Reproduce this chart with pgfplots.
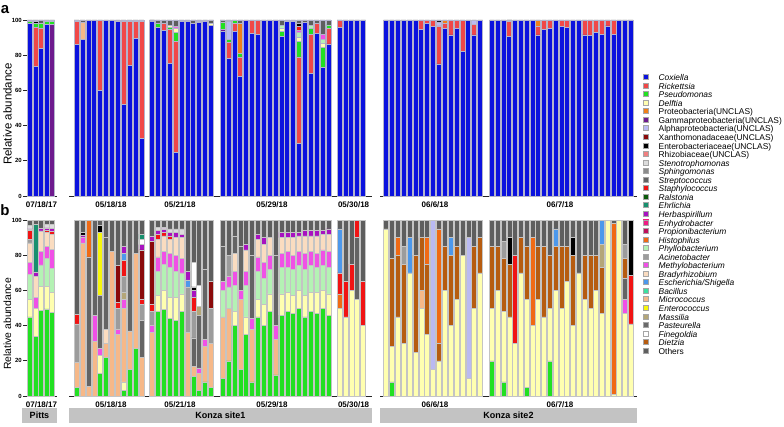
\documentclass[border=0pt]{standalone}
\usepackage{fontspec}
\setmainfont{Liberation Sans}
\usepackage{pgfplots}
\usepackage{pgfplotstable}
\pgfplotsset{compat=1.18}
\definecolor{coxc}{HTML}{0B12DE}
\definecolor{rickc}{HTML}{F04848}
\definecolor{psec}{HTML}{22E022}
\definecolor{delc}{HTML}{FFFFB0}
\definecolor{proc}{HTML}{F08018}
\definecolor{gamc}{HTML}{6E1A8E}
\definecolor{alpc}{HTML}{BABAF2}
\definecolor{xanc}{HTML}{8A0A0A}
\definecolor{enbc}{HTML}{000000}
\definecolor{rhic}{HTML}{F08080}
\definecolor{stec}{HTML}{DCDCDC}
\definecolor{sphc}{HTML}{8C8C8C}
\definecolor{strc}{HTML}{646464}
\definecolor{stac}{HTML}{F01414}
\definecolor{ralc}{HTML}{0A5A0A}
\definecolor{ehrc}{HTML}{18906E}
\definecolor{herc}{HTML}{A812C0}
\definecolor{enhc}{HTML}{F01C84}
\definecolor{prpc}{HTML}{C0105C}
\definecolor{hisc}{HTML}{F06A14}
\definecolor{phyc}{HTML}{B4F2B4}
\definecolor{acic}{HTML}{9C9C9C}
\definecolor{metc}{HTML}{F050E6}
\definecolor{brac}{HTML}{FADCC0}
\definecolor{escc}{HTML}{4C98EC}
\definecolor{bacc}{HTML}{3CE0A0}
\definecolor{micc}{HTML}{F6B888}
\definecolor{entc}{HTML}{F6F60C}
\definecolor{masc}{HTML}{B4A678}
\definecolor{pasc}{HTML}{6A6A6A}
\definecolor{finc}{HTML}{FFFFFF}
\definecolor{diec}{HTML}{B65C10}
\definecolor{othc}{HTML}{5E5E5E}
\definecolor{abord}{HTML}{B4B4CC}
\definecolor{bbord}{HTML}{C4C4C4}
\definecolor{boxg}{HTML}{C3C3C3}

\pgfplotstableread{
x Cox Gam Rick Pse Del Phy Met Alp Pro Mic Sta Enb Oth
30.0 98 0 0 1 0 0 0 0 0 0 0 0 1
35.5 73.5 0 22.5 2 0 0 0 0 0 0 0 1 1
41.0 84 0 11.5 2.5 0 0 0 0 0 0 0 0 2
46.5 97.5 0 0 1.5 0 0 0 0 0 0 0 0 1
52.0 0 97.5 0 1.5 0 0 0 0 0 0 0 0 1
76.7 86 0 13 0 0 0 0 0 0 0 0 0 1
82.6 89 0 0 0 0 0 0 0 0 9.5 0 0 1.5
88.5 99.5 0 0 0 0 0 0 0 0 0 0 0 0.5
94.3 99.5 0 0 0 0 0 0 0 0 0 0 0 0.5
100.2 60 0 39.5 0 0 0 0 0 0 0 0 0 0.5
106.1 99.5 0 0 0 0 0 0 0 0 0 0 0 0.5
112.0 99.5 0 0 0 0 0 0 0 0 0 0 0 0.5
117.9 99 0 0 0 0 0 0 0 0 0 0 0 1
123.7 52 0 47 0 0 0 0 0 0 0 0 0 1
129.6 74 0 25 0 0 0 0 0 0 0 0 0 1
135.5 89.5 0 9.5 0 0 0 0 0 0 0 0 0 1
141.4 32.5 0 66.5 0 0 0 0 0 0 0 0 0 1
152.0 99 0 0 0 0 0 0 0 0 0 0 1 0
157.9 96 0 0 2 0 0 0 0 0 0 0 0 2
163.8 94 0 4 0 0 0 0 0 0 0 0 0 2
169.7 75.5 0 19 1.5 1 0 0 0 0 0 0 0 3
175.6 24.5 0 63.5 5 2.5 0 1 0 0 0 0 0 3.5
181.5 99 0 0 0 0 0 0 0 0 0 0 0 1
187.4 99 0 0 0 0 0 0 0 0 0 0 0 1
193.3 98 0 0 0 0 0 0 0 0 0 0 0 2
199.2 98.5 0 0 0 0 0 0.5 0 0 0 0 0 1
205.1 99 0 0 0 0 0 0 0 0 0 0 0 1
211.0 97 0 0 0 1 0 0 0 0 0 0 0 2
222.7 93.5 1 0 4 0 0 0 0 0 0 0 0 1.5
228.6 78 0 9 2 0 0 0 10 0 0 0 0 1
234.4 93.5 0 4.5 1.5 0 0 0 0 0 0 0 0 0.5
240.3 68 0 11 2 0 0 0 0 17 0 0 0 2
246.2 99.5 0 0 0 0 0 0 0 0 0 0 0 0.5
252.1 92.5 0 7 0 0 0 0 0 0 0 0 0 0.5
257.9 92 0 7.5 0 0 0 0 0 0 0 0 0 0.5
263.8 99.5 0 0 0 0 0 0 0 0 0 0 0 0.5
269.7 99.5 0 0 0 0 0 0 0 0 0 0 0 0.5
275.5 99.5 0 0 0 0 0 0 0 0 0 0 0 0.5
281.4 90.5 0 0 3 2 1.5 0 0 0 0 0 0 3
287.3 99 0 0 0.5 0 0 0 0 0 0 0 0 0.5
293.1 99 0 0 0.5 0 0 0 0 0 0 0 0 0.5
299.0 30 0 49 8.7 2.3 2.8 1.2 0 0 0 2.3 1.5 2.2
304.9 98.5 0 0 0 0 0 0 0 0 0 0 0 1.5
310.8 69.7 0 22.3 3.3 0 1.5 0 0 0 0 0 0 3.2
316.6 92.4 0 5.6 0 0 0 0 0 0 0 0 0 2
322.5 73 0 0 11.5 2 2.5 3 0 0 0 0 0 8
328.4 86.4 0 8.9 1.9 0 0 0 0 0 0 0 0 2.8
339.5 95.8 0 3.7 0 0 0 0 0 0 0 0 0 0.5
345.4 99.5 0 0 0 0 0 0 0 0 0 0 0 0.5
351.3 99.5 0 0 0 0 0 0 0 0 0 0 0 0.5
357.1 99.5 0 0 0 0 0 0 0 0 0 0 0 0.5
363.0 99.5 0 0 0 0 0 0 0 0 0 0 0 0.5
386.0 99.5 0 0 0 0 0 0 0 0 0 0 0 0.5
391.9 99.5 0 0 0 0 0 0 0 0 0 0 0 0.5
397.8 99.5 0 0 0 0 0 0 0 0 0 0 0 0.5
403.6 99.5 0 0 0 0 0 0 0 0 0 0 0 0.5
409.5 99.5 0 0 0 0 0 0 0 0 0 0 0 0.5
415.4 99.5 0 0 0 0 0 0 0 0 0 0 0 0.5
421.3 94.7 0 5 0 0 0 0 0 0 0 0 0 0.3
427.1 98 0 1.5 0 0 0 0 0 0 0 0 0 0.5
433.0 96.2 0 3.3 0 0 0 0 0 0 0 0 0 0.5
438.9 75 0 21.6 0 0 0 0 2.3 0 0 0 0.6 0.5
444.8 95.3 0 2.7 0 0 0 0 0 1.5 0 0 0 0.5
450.6 91.5 0 8 0 0 0 0 0 0 0 0 0 0.5
456.5 95.3 0 4.2 0 0 0 0 0 0 0 0 0 0.5
462.4 82 0 17.5 0 0 0 0 0 0 0 0 0 0.5
468.3 99.5 0 0 0 0 0 0 0 0 0 0 0 0.5
474.1 91.5 0 6.2 0 0 0 0 1.8 0 0 0 0 0.5
480.0 99.5 0 0 0 0 0 0 0 0 0 0 0 0.5
492.0 99.5 0 0 0 0 0 0 0 0 0 0 0 0.5
497.8 99.5 0 0 0 0 0 0 0 0 0 0 0 0.5
503.6 99.5 0 0 0 0 0 0 0 0 0 0 0 0.5
509.3 90.5 0 8.5 0 0 0 0 0 0 0 0 1 0
515.1 99.5 0 0 0 0 0 0 0 0 0 0 0 0.5
520.9 99.5 0 0 0 0 0 0 0 0 0 0 0 0.5
526.7 99.5 0 0 0 0 0 0 0 0 0 0 0 0.5
532.5 99.5 0 0 0 0 0 0 0 0 0 0 0 0.5
538.2 91.5 0 4.7 0 0 0 0 0 3.3 0 0 0 0.5
544.0 94.7 0 5 0 0 0 0 0 0 0 0 0 0.3
549.8 95.3 0 4.5 0 0 0 0 0 0 0 0 0 0.2
555.6 99.5 0 0 0 0 0 0 0 0 0 0 0 0.5
561.4 96.2 0 3.5 0 0 0 0 0 0 0 0 0 0.3
567.1 95.8 0 4 0 0 0 0 0 0 0 0 0 0.2
572.9 99.5 0 0 0 0 0 0 0 0 0 0 0 0.5
578.7 99.5 0 0 0 0 0 0 0 0 0 0 0 0.5
584.5 91.5 0 8.3 0 0 0 0 0 0 0 0 0 0.2
590.3 91 0 8.8 0 0 0 0 0 0 0 0 0 0.2
596.0 92.8 0 7 0 0 0 0 0 0 0 0 0 0.2
601.8 92 0 7.8 0 0 0 0 0 0 0 0 0 0.2
607.6 96.6 0 3.2 0 0 0 0 0 0 0 0 0 0.2
613.4 92 0 7.5 0 0 0 0 0 0 0 0 0 0.5
619.2 99.5 0 0 0 0 0 0 0 0 0 0 0 0.5
624.9 99.5 0 0 0 0 0 0 0 0 0 0 0 0.5
630.7 99.5 0 0 0 0 0 0 0 0 0 0 0 0.5
}\tabA

\pgfplotstableread{
x Pse Del Mic Phy Met Bra Str Die Mas His Aci Sta Xan Esc Alp Ent Her Enb Fin Ehr Ste Oth
30.0 45 10 0 14 7 11 0 0 0 0 2 5 0 0 0 0 1 0 0 0 2 3
35.5 34 16 0 0 6 12 0 0 0 0 0 0 0 0 0 0 2.5 0 0 27 0 2.5
41.0 48.5 14 0 12 7.5 11.8 0 0 0 0 0 0 0 0 0 0 1.5 0 0 0 0 4.7
46.5 49.5 13 0 15.5 7 8 0 0 0 0 0 1 0 0 0 0 1.5 0 0 0 2 2.5
52.0 47.7 11 0 13.6 11 8.5 0 0 0 0 0 1.5 0 0 0 0 2 0 0 0 2 2.7
76.7 5 0 14 0 0 0 0 0 0 0 22 5.5 0 0 0 0 0 0 0 0 0 53.5
82.6 0 0 87 0 3 0 0 0 0 0 0 0 0 0 0 0 1.5 1.5 0 0 0 7
88.5 0 0 5.5 0 0 0 73.5 0 0 21 0 0 0 0 0 0 0 0 0 0 0 0
94.3 0 0 31 0 15 0 54 0 0 0 0 0 0 0 0 0 0 0 0 0 0 0
100.2 13 10 0 0 4 0 30 0 0 0 0 0 0 0 0 36 0 4 0 0 0 3
106.1 22 0 8 0 0 8 52 0 0 0 0 0 0 0 0 0 0 0 0 0 0 10
112.0 0 0 82 0 0 0 0 0 0 0 0 0 0 0 0 0 0 0 0 0 0 18
117.9 0 0 35 0 3 0 0 0 0 0 12 3 21 0 0 0 0 0 0 0 0 26
123.7 3 5 42 0 5 0 0 0 4 0 9 9 0 4 0 0 4 0 0 0 0 15
129.6 15 0 22 0 0 0 63 0 0 0 0 0 0 0 0 0 0 0 0 0 0 0
135.5 27 0 54 0 0 0 0 0 0 0 0 0 0 0 0 0 0 0 0 0 0 19
141.4 0 0 22 0 0 0 21 0 0 0 9 3 28 0 0 0 3 0 3 3 0 8
152.0 0 0 36 0 4 0 0 0 0 0 8 4 36 0 0 0 3 0 0 0 0 9
157.9 48 9 0 14 8 10 0 0 0 0 0 3 0 0 0 0 2 0 0 0 2 4
163.8 49 11 0 15 7 9 0 0 0 0 0 2 0 0 0 0 2 0 0 0 1 4
169.7 44 12 0 17 8 8 0 0 0 0 0 2 0 0 0 0 2 0 0 0 2 5
175.6 43 13 0 15 9 10 0 0 0 0 0 0 0 0 0 0 3 0 0 0 2 5
181.5 48 10 0 12 8 12 0 0 0 0 0 0 0 0 0 0 2 0 0 0 3 5
187.4 0 0 36 0 0 0 0 0 0 0 26 0 0 4 0 0 5 0 0 0 0 29
193.3 11 0 6 0 0 0 16 0 0 0 15 8 0 0 0 0 4 2 14 0 0 24
199.2 3 0 10 0 3 0 30 0 5 0 0 0 0 0 0 0 0 0 12 0 0 37
205.1 8 0 20 0 4 0 40 0 0 0 0 0 0 0 0 0 0 0 0 0 0 28
211.0 5 0 25 0 0 0 0 0 0 0 20 0 15 0 0 0 0 0 0 0 0 35
222.7 10 0 35 15 5 0 20 0 0 0 0 0 0 0 0 0 0 0 0 0 0 15
228.6 20 0 30 12 6 0 0 0 0 0 12 0 0 0 0 0 0 0 0 0 0 20
234.4 40 8 0 15 8 10 10 0 0 0 0 0 0 0 0 0 0 0 0 0 0 9
240.3 15 0 40 0 5 0 25 0 0 0 0 0 0 0 0 0 0 0 0 0 0 15
246.2 35 10 0 18 8 12 0 0 0 0 0 0 0 0 0 0 3 0 0 0 0 14
252.1 8 0 30 0 6 0 36 0 0 0 0 0 0 0 0 0 0 0 0 0 0 20
257.9 45 10 0 16 8 10 0 0 0 0 0 0 0 0 0 0 3 0 0 0 0 8
263.8 40 12 0 15 9 10 0 0 0 0 0 0 0 0 0 0 4 0 0 0 0 10
269.7 48 10 0 14 8 10 0 0 0 0 0 0 0 0 0 0 0 0 0 0 0 10
275.5 12 0 20 0 8 0 40 0 0 0 0 0 0 0 0 0 0 0 0 0 0 20
281.4 46 12 0 15 8 9 0 0 0 0 0 0 0 0 0 0 3 0 0 0 0 7
287.3 48 11 0 14 9 8 0 0 0 0 0 0 0 0 0 0 3 0 0 0 0 7
293.1 47 10 0 15 8 10 0 0 0 0 0 0 0 0 0 0 3 0 0 0 0 7
299.0 50 10 0 14 8 9 0 0 0 0 0 0 0 0 0 0 2 0 0 0 0 7
304.9 45 12 0 15 9 10 0 0 0 0 0 0 0 0 0 0 3 0 0 0 0 6
310.8 48 11 0 15 8 9 0 0 0 0 0 0 0 0 0 0 3 0 0 0 0 6
316.6 47 12 0 14 8 10 0 0 0 0 0 0 0 0 0 0 3 0 0 0 0 6
322.5 50 10 0 14 9 9 0 0 0 0 0 0 0 0 0 0 2 0 0 0 0 6
328.4 46 12 0 15 9 10 0 0 0 0 0 0 0 0 0 0 3 0 0 0 0 5
339.5 0 50 0 0 0 0 0 0 0 8 0 12 0 25 0 0 0 0 0 0 0 5
345.4 0 45 0 0 0 0 0 0 0 0 0 20 0 0 0 0 0 0 0 0 0 35
351.3 0 60 0 0 0 0 0 0 0 0 0 15 0 0 0 0 0 0 0 0 0 25
357.1 0 55 0 0 0 0 35 0 0 0 0 10 0 0 0 0 0 0 0 0 0 0
363.0 0 40 0 0 0 0 0 0 0 0 0 25 0 0 0 0 0 0 0 0 0 35
386.0 0 95 0 0 0 0 0 0 0 0 0 0 0 0 0 0 0 0 0 0 0 5
391.9 8 20 0 0 0 0 0 50 0 0 0 0 0 0 0 0 0 0 0 0 0 22
397.8 0 45 0 0 0 0 0 35 0 10 0 0 0 0 0 0 0 0 0 0 0 10
403.6 0 30 0 0 0 0 0 45 0 0 10 0 0 0 0 0 0 0 0 0 0 15
409.5 0 70 0 0 0 0 0 0 0 0 0 0 0 20 0 0 0 0 0 0 0 10
415.4 0 25 0 0 0 0 0 55 0 0 0 0 0 0 0 0 0 0 0 0 0 20
421.3 0 50 10 0 0 0 0 30 0 0 0 0 0 0 0 0 0 0 0 0 0 10
427.1 0 35 0 0 0 0 0 40 0 15 0 0 0 0 0 0 0 0 0 0 0 10
433.0 0 15 0 0 0 0 0 0 0 0 0 0 0 0 85 0 0 0 0 0 0 0
438.9 0 20 0 0 0 0 0 10 0 65 0 0 0 0 0 0 0 0 0 0 0 5
444.8 0 60 0 0 0 0 0 25 0 0 0 0 0 0 0 0 0 0 0 0 0 15
450.6 0 40 0 0 0 0 0 40 0 0 0 0 0 10 0 0 0 0 0 0 0 10
456.5 0 55 0 0 0 0 0 30 0 0 0 0 0 0 0 0 0 0 0 0 0 15
462.4 0 80 0 0 0 0 0 0 0 0 0 0 0 0 0 0 0 0 0 0 0 20
468.3 0 10 0 0 0 0 0 0 0 0 0 0 0 0 80 0 0 0 0 0 0 10
474.1 0 50 0 0 0 0 0 35 0 0 0 0 0 0 0 0 0 0 0 0 0 15
480.0 0 70 0 0 0 0 0 20 0 0 0 0 0 0 0 0 0 0 0 0 0 10
492.0 20 30 0 0 0 0 0 35 0 0 0 0 0 0 0 0 0 0 0 0 0 15
497.8 0 60 0 0 0 0 0 25 0 0 0 0 0 0 0 0 0 0 0 0 0 15
503.6 8 40 0 0 0 0 0 30 0 0 10 0 0 0 0 0 0 0 0 0 0 12
509.3 0 45 0 0 0 0 0 30 0 0 0 0 0 0 0 0 0 15 0 0 0 10
515.1 0 30 0 0 0 0 0 0 0 0 0 50 0 0 0 0 0 0 0 0 0 20
520.9 0 70 0 0 0 0 0 20 0 0 0 0 0 0 0 0 0 0 0 0 0 10
526.7 5 50 0 0 0 0 0 30 0 0 0 0 0 0 0 0 0 0 0 0 0 15
532.5 0 40 0 0 0 0 0 0 0 50 0 0 0 0 0 0 0 0 0 0 0 10
538.2 0 55 0 0 0 0 0 30 0 0 0 0 0 0 0 0 0 0 0 0 0 15
544.0 0 45 0 0 0 0 0 40 0 0 0 0 0 0 0 0 0 0 0 0 0 15
549.8 20 30 0 0 0 0 0 30 0 0 0 0 0 0 0 0 0 0 0 0 0 20
555.6 0 60 0 0 0 0 0 25 0 0 0 0 0 10 0 0 0 0 0 0 0 5
561.4 0 50 0 0 0 0 0 35 0 0 0 0 0 0 0 0 0 0 0 0 0 15
567.1 0 65 0 0 0 0 0 20 0 0 0 0 0 0 0 0 0 0 0 0 0 15
572.9 0 40 0 0 0 0 0 40 0 0 0 0 0 0 0 0 0 10 0 0 0 10
578.7 0 70 0 0 0 0 0 0 0 0 0 0 0 0 0 0 0 0 0 0 0 30
584.5 0 55 0 0 0 0 0 25 0 0 0 0 0 0 0 0 0 0 0 0 0 20
590.3 0 50 0 0 0 0 0 30 0 0 0 0 0 0 0 0 0 0 0 0 0 20
596.0 0 60 0 0 0 0 0 20 0 0 0 0 0 0 0 0 0 0 0 0 0 20
601.8 0 47 0 0 0 0 0 26 13 0 0 0 0 14 0 0 0 0 0 0 0 0
607.6 0 100 0 0 0 0 0 0 0 0 0 0 0 0 0 0 0 0 0 0 0 0
613.4 0 1 0 0 0 0 0 0 0 97 0 0 0 0 0 0 0 0 0 0 0 2
619.2 0 100 0 0 0 0 0 0 0 0 0 0 0 0 0 0 0 0 0 0 0 0
624.9 0 47 0 0 8 0 12 11 0 0 8 0 0 0 0 0 0 0 0 0 0 14
630.7 0 41 0 0 0 0 0 0 0 0 0 27.5 0 0 0 0 0 31.5 0 0 0 0
}\tabB

\pgfplotsset{
  panel/.style={
    scale only axis, width=757pt, height=176pt, anchor=south west,
    xmin=27, xmax=784, ymin=0, ymax=100,
    axis lines*=left,
    x axis line style={draw=none},
    y axis line style={line width=0.8pt, black!85},
    ybar stacked, bar width=5pt,
    ytick={0,20,40,60,80,100},
    ytick style={line width=0.8pt, black!85},
    xtick style={draw=none},
    tick align=outside, major tick length=4pt,
    /pgf/number format/assume math mode=true,
    yticklabel style={font=\bfseries\fontsize{6}{7}\selectfont, inner xsep=1pt},
    xticklabel style={font=\bfseries\fontsize{8}{9}\selectfont, inner ysep=2pt},
    xtick={41.5,111,180,272,353.6,435,560},
    xticklabels={07/18/17,05/18/18,05/21/18,05/29/18,05/30/18,06/6/18,06/7/18},
    clip=false,
  },
  ba/.style={fill=#1, draw=abord, line width=0.8pt, forget plot},
  bb/.style={fill=#1, draw=bbord, line width=0.6pt, forget plot},
  legsq/.style={legend image code/.code={\fill[#1] (0pt,-0.3pt) rectangle (5pt,4.7pt); \draw[gray!70, line width=0.3pt] (0pt,-0.3pt) rectangle (5pt,4.7pt);}},
}

\begin{document}
\begin{tikzpicture}
\path[use as bounding box] (0,0) rectangle (784pt,426pt);
% ---------- panel a ----------
\begin{axis}[panel, at={(27pt,230pt)}]
\addplot[ba=coxc] table[x=x,y=Cox]{\tabA};
\addplot[ba=gamc] table[x=x,y=Gam]{\tabA};
\addplot[ba=rickc] table[x=x,y=Rick]{\tabA};
\addplot[ba=psec] table[x=x,y=Pse]{\tabA};
\addplot[ba=delc] table[x=x,y=Del]{\tabA};
\addplot[ba=phyc] table[x=x,y=Phy]{\tabA};
\addplot[ba=metc] table[x=x,y=Met]{\tabA};
\addplot[ba=alpc] table[x=x,y=Alp]{\tabA};
\addplot[ba=proc] table[x=x,y=Pro]{\tabA};
\addplot[ba=micc] table[x=x,y=Mic]{\tabA};
\addplot[ba=stac] table[x=x,y=Sta]{\tabA};
\addplot[ba=enbc] table[x=x,y=Enb]{\tabA};
\addplot[ba=othc] table[x=x,y=Oth]{\tabA};
\draw[line width=0.9pt, black!85] (axis cs:27,0) -- (axis cs:57,0);
\draw[line width=0.9pt, black!85] (axis cs:69,0) -- (axis cs:372,0);
\draw[line width=0.9pt, black!85] (axis cs:380,0) -- (axis cs:637,0);
\end{axis}
% ---------- panel b ----------
\begin{axis}[panel, at={(27pt,30pt)}]
\addplot[bb=psec] table[x=x,y=Pse]{\tabB};
\addplot[bb=delc] table[x=x,y=Del]{\tabB};
\addplot[bb=micc] table[x=x,y=Mic]{\tabB};
\addplot[bb=phyc] table[x=x,y=Phy]{\tabB};
\addplot[bb=metc] table[x=x,y=Met]{\tabB};
\addplot[bb=brac] table[x=x,y=Bra]{\tabB};
\addplot[bb=strc] table[x=x,y=Str]{\tabB};
\addplot[bb=diec] table[x=x,y=Die]{\tabB};
\addplot[bb=masc] table[x=x,y=Mas]{\tabB};
\addplot[bb=hisc] table[x=x,y=His]{\tabB};
\addplot[bb=acic] table[x=x,y=Aci]{\tabB};
\addplot[bb=stac] table[x=x,y=Sta]{\tabB};
\addplot[bb=xanc] table[x=x,y=Xan]{\tabB};
\addplot[bb=escc] table[x=x,y=Esc]{\tabB};
\addplot[bb=alpc] table[x=x,y=Alp]{\tabB};
\addplot[bb=entc] table[x=x,y=Ent]{\tabB};
\addplot[bb=herc] table[x=x,y=Her]{\tabB};
\addplot[bb=enbc] table[x=x,y=Enb]{\tabB};
\addplot[bb=finc] table[x=x,y=Fin]{\tabB};
\addplot[bb=ehrc] table[x=x,y=Ehr]{\tabB};
\addplot[bb=stec] table[x=x,y=Ste]{\tabB};
\addplot[bb=othc] table[x=x,y=Oth]{\tabB};
\draw[line width=0.9pt, black!85] (axis cs:27,0) -- (axis cs:57,0);
\draw[line width=0.9pt, black!85] (axis cs:69,0) -- (axis cs:372,0);
\draw[line width=0.9pt, black!85] (axis cs:380,0) -- (axis cs:637,0);
\end{axis}
% ---------- legend ----------
\begin{axis}[hide axis, scale only axis, width=784pt, height=426pt, at={(0pt,0pt)}, anchor=south west,
  xmin=0, xmax=1, ymin=0, ymax=1,
  legend cell align=left,
  legend style={at={(0.8202,0.8265)}, anchor=north west, draw=none, fill=none, inner sep=0pt,
    font=\fontsize{8.4}{8.4}\selectfont, row sep=0pt,
    nodes={inner sep=0pt, text height=5.3pt, text depth=2.0pt},
    /tikz/every odd column/.append style={column sep=10pt}}]
\addlegendimage{legsq=coxc}\addlegendentry{\textit{Coxiella}}
\addlegendimage{legsq=rickc}\addlegendentry{\textit{Rickettsia}}
\addlegendimage{legsq=psec}\addlegendentry{\textit{Pseudomonas}}
\addlegendimage{legsq=delc}\addlegendentry{\textit{Delftia}}
\addlegendimage{legsq=proc}\addlegendentry{Proteobacteria(UNCLAS)}
\addlegendimage{legsq=gamc}\addlegendentry{Gammaproteobacteria(UNCLAS)}
\addlegendimage{legsq=alpc}\addlegendentry{Alphaproteobacteria(UNCLAS)}
\addlegendimage{legsq=xanc}\addlegendentry{Xanthomonadaceae(UNCLAS)}
\addlegendimage{legsq=enbc}\addlegendentry{Enterobacteriaceae(UNCLAS)}
\addlegendimage{legsq=rhic}\addlegendentry{Rhizobiaceae(UNCLAS)}
\addlegendimage{legsq=stec}\addlegendentry{\textit{Stenotrophomonas}}
\addlegendimage{legsq=sphc}\addlegendentry{\textit{Sphingomonas}}
\addlegendimage{legsq=strc}\addlegendentry{\textit{Streptococcus}}
\addlegendimage{legsq=stac}\addlegendentry{\textit{Staphylococcus}}
\addlegendimage{legsq=ralc}\addlegendentry{\textit{Ralstonia}}
\addlegendimage{legsq=ehrc}\addlegendentry{\textit{Ehrlichia}}
\addlegendimage{legsq=herc}\addlegendentry{\textit{Herbaspirillum}}
\addlegendimage{legsq=enhc}\addlegendentry{\textit{Enhydrobacter}}
\addlegendimage{legsq=prpc}\addlegendentry{\textit{Propionibacterium}}
\addlegendimage{legsq=hisc}\addlegendentry{\textit{Histophilus}}
\addlegendimage{legsq=phyc}\addlegendentry{\textit{Phyllobacterium}}
\addlegendimage{legsq=acic}\addlegendentry{\textit{Acinetobacter}}
\addlegendimage{legsq=metc}\addlegendentry{\textit{Methylobacterium}}
\addlegendimage{legsq=brac}\addlegendentry{\textit{Bradyrhizobium}}
\addlegendimage{legsq=escc}\addlegendentry{\textit{Escherichia/Shigella}}
\addlegendimage{legsq=bacc}\addlegendentry{\textit{Bacillus}}
\addlegendimage{legsq=micc}\addlegendentry{\textit{Micrococcus}}
\addlegendimage{legsq=entc}\addlegendentry{\textit{Enterococcus}}
\addlegendimage{legsq=masc}\addlegendentry{\textit{Massilia}}
\addlegendimage{legsq=pasc}\addlegendentry{\textit{Pasteurella}}
\addlegendimage{legsq=finc}\addlegendentry{\textit{Finegoldia}}
\addlegendimage{legsq=diec}\addlegendentry{\textit{Dietzia}}
\addlegendimage{legsq=othc}\addlegendentry{Others}
\end{axis}
% ---------- labels ----------
\node[font=\bfseries\fontsize{15}{15}\selectfont, anchor=base] at (5pt,412.5pt) {a};
\node[font=\bfseries\fontsize{15}{15}\selectfont, anchor=base] at (5pt,210pt) {b};
\node[rotate=90, font=\fontsize{11.5}{12}\selectfont] at (7.5pt,312pt) {Relative abundance};
\node[rotate=90, font=\fontsize{10.4}{11}\selectfont] at (7.5pt,102pt) {Relative abundance};
\fill[boxg] (22pt,3pt) rectangle (57pt,18pt);
\fill[boxg] (69pt,3pt) rectangle (372pt,18pt);
\fill[boxg] (380pt,3pt) rectangle (637pt,18pt);
\node[font=\bfseries\fontsize{9}{9}\selectfont] at (39.5pt,10.5pt) {Pitts};
\node[font=\bfseries\fontsize{9}{9}\selectfont] at (220.5pt,10.5pt) {Konza site1};
\node[font=\bfseries\fontsize{9}{9}\selectfont] at (508.5pt,10.5pt) {Konza site2};
\end{tikzpicture}
\end{document}
